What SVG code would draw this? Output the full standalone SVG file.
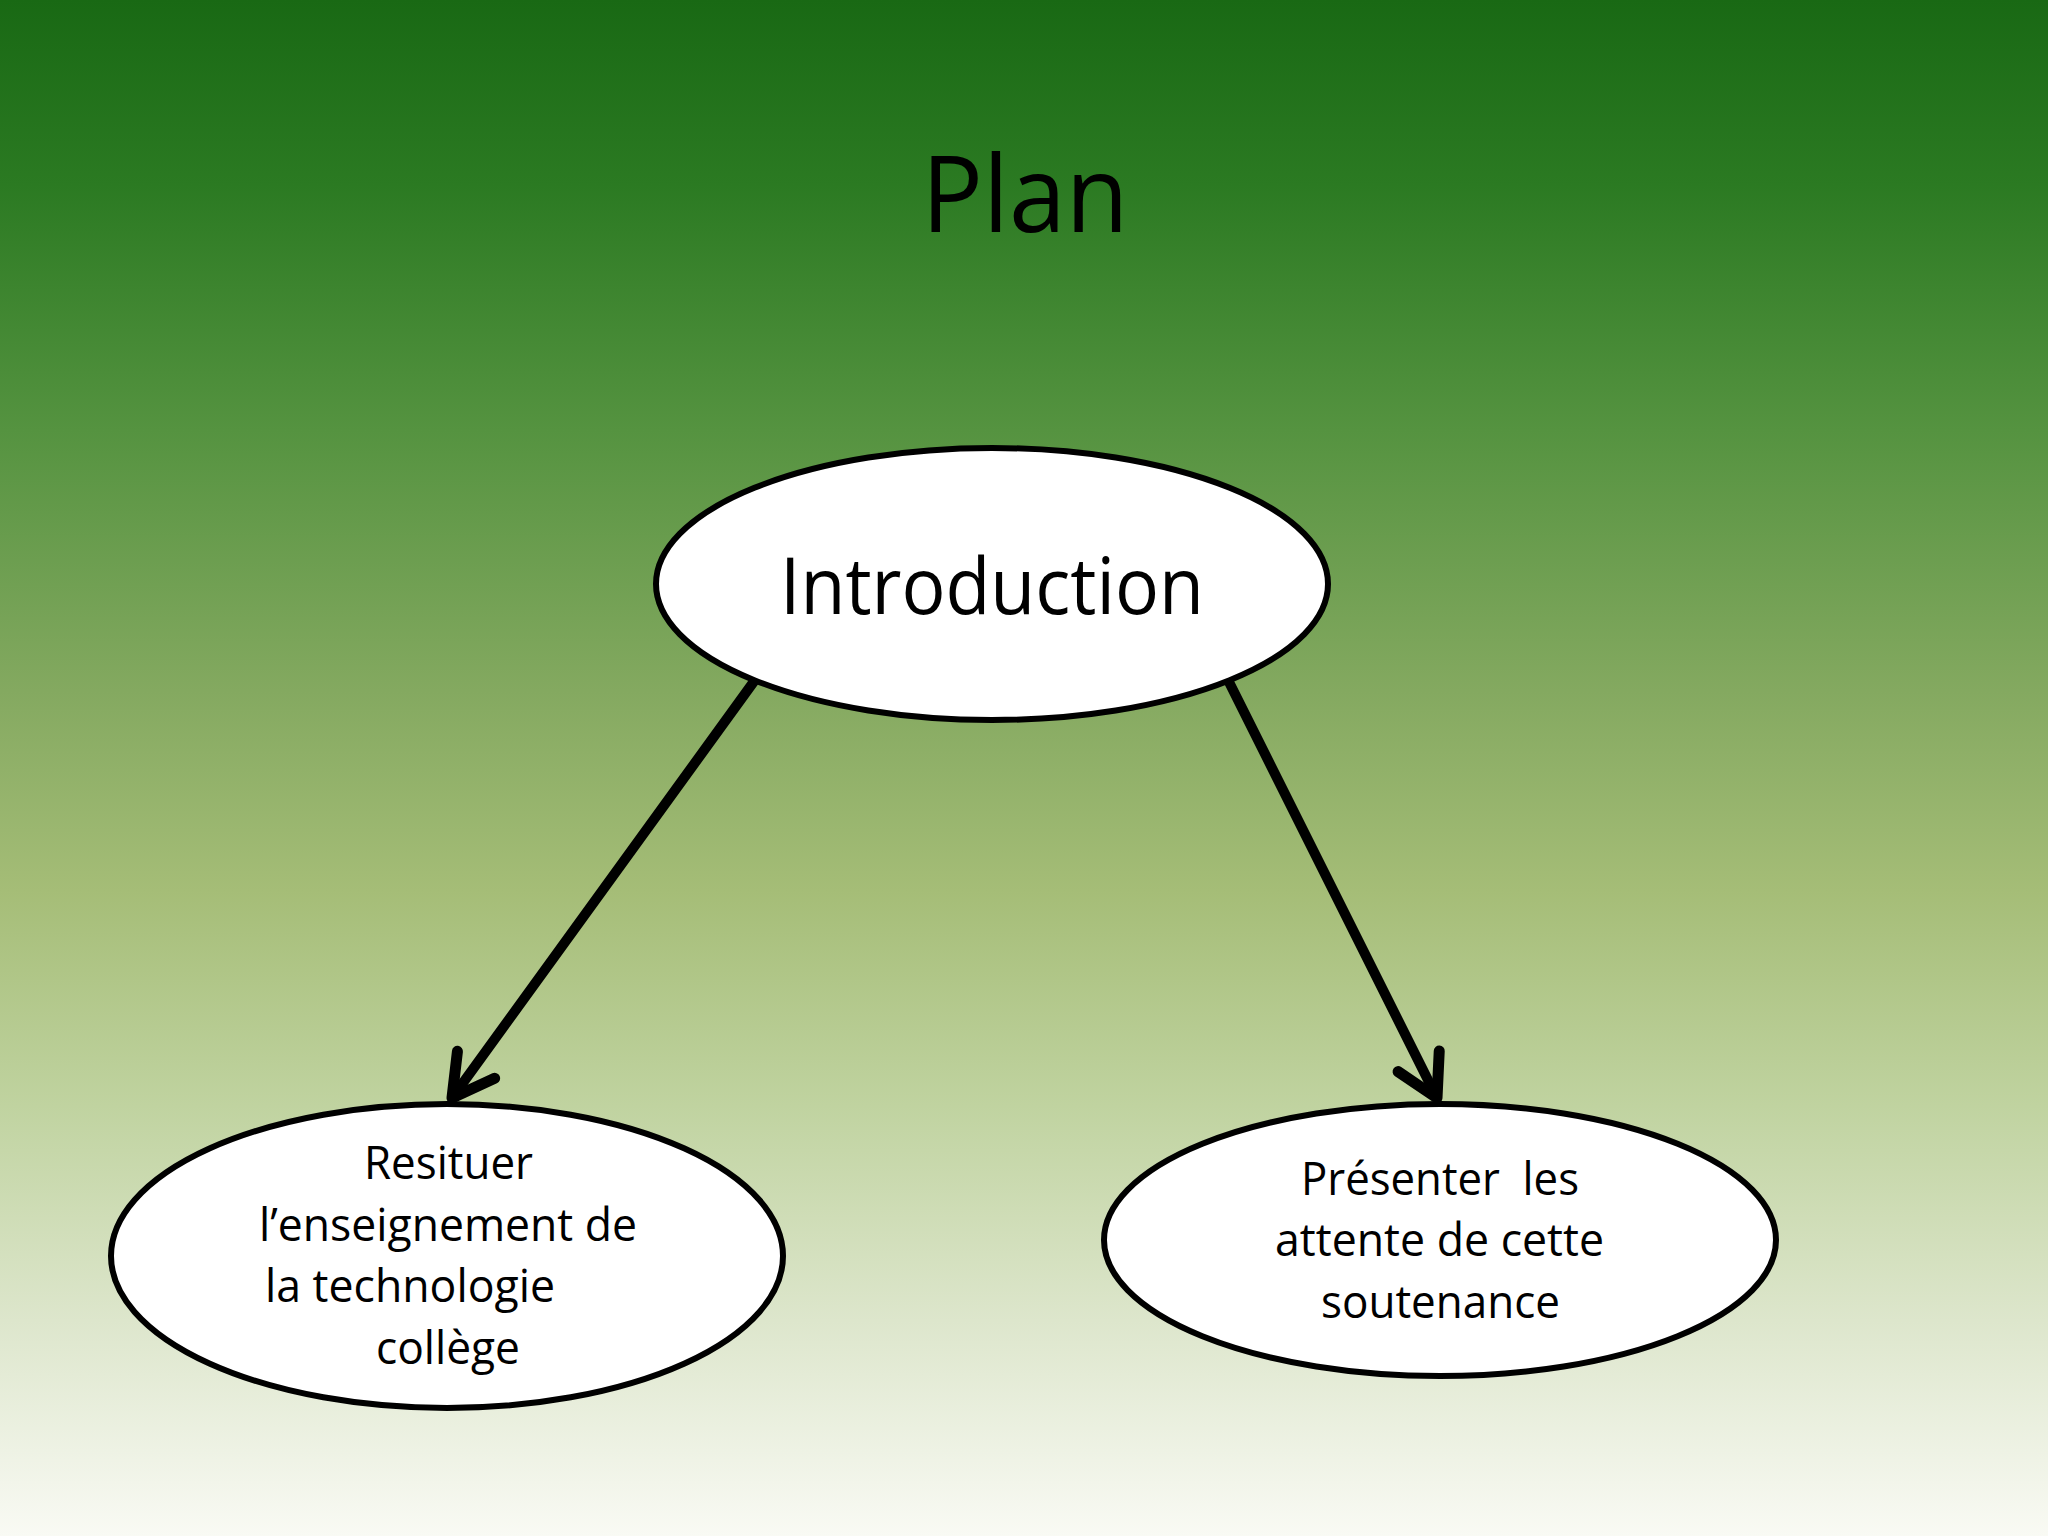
<svg xmlns="http://www.w3.org/2000/svg" width="2048" height="1536" viewBox="0 0 2048 1536">
  <defs>
    <linearGradient id="bg" x1="0" y1="0" x2="0" y2="1">
      <stop offset="0" stop-color="#196914"/>
      <stop offset="0.12" stop-color="#2b7a22"/>
      <stop offset="0.28" stop-color="#559340"/>
      <stop offset="0.45" stop-color="#84a960"/>
      <stop offset="0.58" stop-color="#a5bd77"/>
      <stop offset="0.72" stop-color="#c0d3a0"/>
      <stop offset="0.86" stop-color="#dde6cc"/>
      <stop offset="1" stop-color="#f9faf4"/>
    </linearGradient>
    <marker id="arrow" markerUnits="userSpaceOnUse" markerWidth="120" markerHeight="120" viewBox="-60 -60 120 120" refX="0" refY="0" orient="auto" overflow="visible">
      <path d="M-41,-23 L0,0 L-41,23" fill="none" stroke="#000" stroke-width="11" stroke-linecap="round" stroke-linejoin="round"/>
    </marker>
    <style>
      .node { fill: #ffffff; stroke: #000000; stroke-width: 6; }
      .label { font-family: "Open Sans", "Noto Sans", "Liberation Sans", sans-serif; fill: #000000; white-space: pre; }
      .conn { stroke: #000000; stroke-width: 10; fill: none; stroke-linecap: round; marker-end: url(#arrow); }
    </style>
  </defs>
  <rect x="0" y="0" width="2048" height="1536" fill="url(#bg)"/>
  <text class="label" x="1025" y="232" font-size="106" text-anchor="middle" textLength="207" lengthAdjust="spacingAndGlyphs">Plan</text>

  <g id="connectors">
    <line class="conn" x1="755" y1="680" x2="452" y2="1098"/>
    <line class="conn" x1="1228" y1="680" x2="1437" y2="1098"/>
  </g>

  <g id="node-introduction">
    <ellipse class="node" cx="992" cy="584" rx="336" ry="136"/>
    <text class="label" x="992" y="614" font-size="78" text-anchor="middle" textLength="424" lengthAdjust="spacingAndGlyphs">Introduction</text>
  </g>

  <g id="node-resituer">
    <ellipse class="node" cx="447" cy="1256" rx="336" ry="152"/>
    <text class="label" font-size="45">
      <tspan x="364" y="1179" textLength="169" lengthAdjust="spacingAndGlyphs">Resituer</tspan>
      <tspan x="259" y="1241" textLength="378" lengthAdjust="spacingAndGlyphs">l’enseignement de</tspan>
      <tspan x="265" y="1302" textLength="290" lengthAdjust="spacingAndGlyphs">la technologie</tspan>
      <tspan x="376" y="1364" textLength="144" lengthAdjust="spacingAndGlyphs">collège</tspan>
    </text>
  </g>

  <g id="node-presenter">
    <ellipse class="node" cx="1440" cy="1240" rx="336" ry="136"/>
    <text class="label" font-size="45" xml:space="preserve"><tspan x="1301" y="1195" textLength="278" lengthAdjust="spacingAndGlyphs">Présenter  les</tspan><tspan x="1275" y="1256" textLength="329" lengthAdjust="spacingAndGlyphs">attente de cette</tspan><tspan x="1321" y="1318" textLength="239" lengthAdjust="spacingAndGlyphs">soutenance</tspan></text>
  </g>
</svg>
